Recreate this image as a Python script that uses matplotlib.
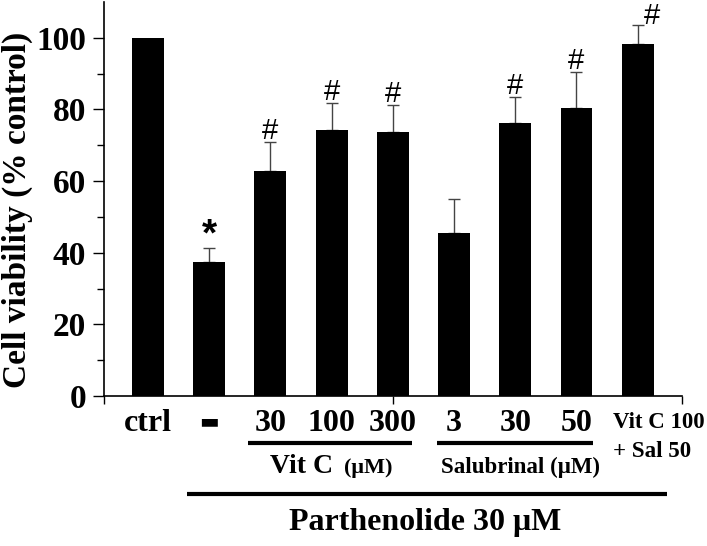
import matplotlib
matplotlib.use("Agg")
import matplotlib.pyplot as plt
from matplotlib.transforms import blended_transform_factory

# data
groups = ["ctrl", "-", "30", "100", "300", "3", "30", "50", "Vit C 100\n+ Sal 50"]
viability = [100, 37.5, 62.9, 74.4, 73.7, 45.4, 76.3, 80.4, 98.2]
sem = [0, 3.8, 8.1, 7.3, 7.5, 9.6, 7.2, 10.1, 5.5]
marks = ["", "*", "#", "#", "#", "", "#", "#", "#"]

plt.rcParams["font.family"] = ["Liberation Serif", "DejaVu Serif"]
plt.rcParams["font.weight"] = "bold"

W, H = 707, 546
fig = plt.figure(figsize=(W / 100, H / 100), dpi=100)
ax = fig.add_axes([104 / W, 1 - 396 / H, (682 - 104) / W, (396 - 2) / H])

x = list(range(1, len(viability) + 1))
ax.bar(x, viability, width=0.52, color="black", zorder=2)
ax.errorbar(x[1:], viability[1:], yerr=[[0] * (len(x) - 1), sem[1:]],
            fmt="none", ecolor="#444444", elinewidth=1.0, capsize=4,
            capthick=1.0, zorder=1)

# significance marks
for xi, v, e, m in zip(x, viability, sem, marks):
    if not m:
        continue
    if xi == x[-1]:
        ax.text(xi + 0.24, v + e + 0.2, m, ha="center", va="baseline",
                fontsize=21, fontweight="normal", family="Liberation Sans")
    elif m == "*":
        ax.text(xi, v + e + 0.6, m, ha="center", va="baseline",
                fontsize=28, fontweight="bold", family="Liberation Sans")
    else:
        ax.text(xi, v + e + 0.8, m, ha="center", va="baseline",
                fontsize=21, fontweight="normal", family="Liberation Sans")

ax.set_xlim(0.281, 9.725)
ax.set_ylim(0, 110)
ax.set_yticks([0, 20, 40, 60, 80, 100])
ax.set_yticks([10, 30, 50, 70, 90], minor=True)
ax.set_xticks([0.281, 5, 9.725])
ax.set_xticklabels([])
ax.tick_params(axis="y", which="major", direction="out", length=8, width=1,
               labelsize=24, pad=5)
ax.tick_params(axis="y", which="minor", direction="out", length=5, width=1)
ax.tick_params(axis="x", direction="out", length=6, width=1)
for lab in ax.get_yticklabels():
    lab.set_fontweight("bold")
for s in ["top", "right"]:
    ax.spines[s].set_visible(False)
for s in ["left", "bottom"]:
    ax.spines[s].set_linewidth(1.2)

fig.text(17 / W, 1 - 210 / H, "Cell viability (% control)", rotation=90,
         ha="center", va="center", fontsize=24, fontweight="bold")

# group labels below the axis
tr = blended_transform_factory(ax.transData, fig.transFigure)


def fy(px):
    return 1 - px / H


for xi, g in zip(x, groups):
    if "\n" in g:
        top, bottom = g.split("\n")
        ax.text(xi - 0.4, fy(428), top, transform=tr, ha="left",
                va="baseline", fontsize=16.5)
        ax.text(xi - 0.4, fy(457), bottom, transform=tr, ha="left",
                va="baseline", fontsize=16.5)
    elif g == "-":
        # thick dash drawn as a black rectangle glyph
        ax.text(xi, fy(421), "\u25ac", transform=tr, ha="center",
                va="center", fontsize=15, family="DejaVu Sans")
    else:
        ax.text(xi, fy(431), g, transform=tr, ha="center", va="baseline",
                fontsize=23)

# bracket lines
for x0, x1, ypx in [(2.63, 5.31, 443), (5.72, 8.27, 443), (1.64, 9.48, 494)]:
    ax.plot([x0, x1], [fy(ypx), fy(ypx)], transform=tr, color="black",
            lw=3, clip_on=False, solid_capstyle="butt")

ax.text(4.02, fy(473), "Vit C", transform=tr, ha="right", va="baseline",
        fontsize=20)
ax.text(4.20, fy(473), "(\u03bcM)", transform=tr, ha="left", va="baseline",
        fontsize=16)
ax.text(7.08, fy(473), "Salubrinal (\u03bcM)", transform=tr, ha="center",
        va="baseline", fontsize=16.5)
ax.text(5.52, fy(530), "Parthenolide 30 \u03bcM", transform=tr, ha="center",
        va="baseline", fontsize=23)

fig.savefig("out.png", dpi=100)
